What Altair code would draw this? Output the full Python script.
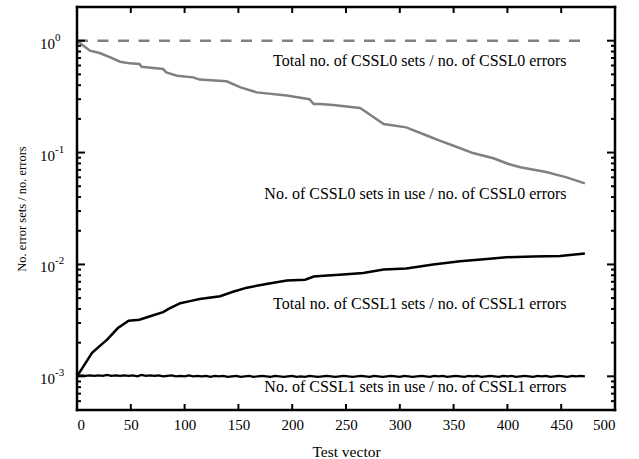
import altair as alt
import pandas as pd

FONT = "Liberation Serif"

# ---- data ----
dash_x = [0, 470]
dash_y = [1.0, 1.0]

cssl0_use_x = [0, 12, 21, 31, 40, 49, 58, 60, 80, 83, 93, 108, 114, 139, 152, 167, 195, 216,
               220, 226, 238, 263, 269, 285, 306, 325, 337, 350, 368, 387, 401, 412, 436, 455, 472]
cssl0_use_y = [1.0, 0.814, 0.776, 0.71, 0.649, 0.627, 0.619, 0.585, 0.558, 0.52, 0.486, 0.47,
               0.449, 0.433, 0.382, 0.345, 0.323, 0.30, 0.271, 0.271, 0.266, 0.25, 0.229, 0.18,
               0.168, 0.142, 0.128, 0.115, 0.099, 0.089, 0.079, 0.074, 0.067, 0.060, 0.053]

cssl1_tot_x = [0, 14, 21, 28, 38, 48, 58, 68, 80, 86, 96, 105, 114, 133, 145, 158, 176, 195,
               212, 220, 226, 244, 266, 285, 306, 331, 356, 381, 399, 424, 449, 472]
cssl1_tot_y = [0.001, 0.00162, 0.00186, 0.00213, 0.0027, 0.00314, 0.0032, 0.00344, 0.00375,
               0.00404, 0.0045, 0.0047, 0.0049, 0.0052, 0.0057, 0.0062, 0.0067, 0.0072, 0.0073,
               0.0078, 0.0079, 0.0081, 0.0084, 0.0090, 0.0092, 0.0100, 0.0107, 0.0112, 0.0116,
               0.0118, 0.0119, 0.0125]

cssl1_use_x = [0, 4, 8, 12, 16, 20, 24, 28, 32, 36, 40, 44, 48, 52, 56, 60, 64, 68, 72, 76,
               80, 84, 88, 92, 96, 100, 104, 108, 112, 116, 120, 124, 128, 132, 136, 140, 144,
               148, 152, 156, 160, 164, 168, 172, 176, 180, 184, 188, 192, 196, 200, 204, 208,
               212, 216, 220, 224, 228, 232, 236, 240, 244, 248, 252, 256, 260, 264, 268, 272,
               276, 280, 284, 288, 292, 296, 300, 304, 308, 312, 316, 320, 324, 328, 332, 336,
               340, 344, 348, 352, 356, 360, 364, 368, 372, 376, 380, 384, 388, 392, 396, 400,
               404, 408, 412, 416, 420, 424, 428, 432, 436, 440, 444, 448, 452, 456, 460, 464,
               468, 472]
cssl1_use_y = [0.00100, 0.00102, 0.00101, 0.00102, 0.00101, 0.00102, 0.00101, 0.00103, 0.00101,
               0.00102, 0.00101, 0.00102, 0.00101, 0.00102, 0.00100, 0.00103, 0.00101, 0.00102,
               0.00101, 0.00102, 0.00100, 0.00101, 0.00102, 0.00100, 0.00101, 0.00100, 0.00102,
               0.00100, 0.00101, 0.00100, 0.00101, 0.00099, 0.00101, 0.00100, 0.00101, 0.00099,
               0.00100, 0.00101, 0.00099, 0.00100, 0.00101, 0.00099, 0.00100, 0.00101, 0.00100,
               0.00099, 0.00101, 0.00100, 0.00099, 0.00100, 0.00101, 0.00099, 0.00100, 0.00099,
               0.00101, 0.00100, 0.00099, 0.00100, 0.00101, 0.00100, 0.00099, 0.00100, 0.00101,
               0.00100, 0.00099, 0.00100, 0.00101, 0.00100, 0.00099, 0.00101, 0.00100, 0.00099,
               0.00100, 0.00101, 0.00100, 0.00099, 0.00101, 0.00100, 0.00099, 0.00100, 0.00101,
               0.00100, 0.00099, 0.00101, 0.00100, 0.00101, 0.00099, 0.00100, 0.00101, 0.00100,
               0.00099, 0.00101, 0.00100, 0.00101, 0.00099, 0.00100, 0.00101, 0.00100, 0.00099,
               0.00101, 0.00100, 0.00101, 0.00099, 0.00100, 0.00101, 0.00100, 0.00099, 0.00101,
               0.00100, 0.00101, 0.00099, 0.00100, 0.00101, 0.00100, 0.00099, 0.00101, 0.00100,
               0.00101, 0.00100]

x_ticks = [0, 50, 100, 150, 200, 250, 300, 350, 400, 450, 500]
y_major = [1.0, 0.1, 0.01, 0.001]
y_exp = ["0", "-1", "-2", "-3"]
y_minor = [2.0, 0.9, 0.8, 0.7, 0.6, 0.5, 0.4, 0.3, 0.2,
           0.09, 0.08, 0.07, 0.06, 0.05, 0.04, 0.03, 0.02,
           0.009, 0.008, 0.007, 0.006, 0.005, 0.004, 0.003, 0.002,
           0.0009, 0.0008, 0.0007, 0.0006, 0.0005]

ann_text = ["Total no. of CSSL0 sets / no. of CSSL0 errors",
            "No. of CSSL0 sets in use / no. of CSSL0 errors",
            "Total no. of CSSL1 sets / no. of CSSL1 errors",
            "No. of CSSL1 sets in use / no. of CSSL1 errors"]
ann_x = [455, 455, 455, 455]
ann_y = [0.662, 0.043, 0.00447, 0.000809]

# ---- scales ----
W, H = 538, 403
xs = alt.Scale(domain=[0, 500], nice=False, zero=False)
ys = alt.Scale(type="log", domain=[0.0005, 2], nice=False)

xenc = alt.X("x:Q", scale=xs,
             axis=alt.Axis(values=x_ticks, tickSize=0, domain=False, grid=False,
                           labelFont=FONT, labelFontSize=15, labelColor="black",
                           labelPadding=7, title="Test vector", titleFont=FONT,
                           titleFontSize=15.5, titleFontWeight="normal", titleColor="black",
                           titlePadding=12))
yenc = alt.Y("y:Q", scale=ys,
             axis=alt.Axis(values=y_major, labels=False, ticks=False, domain=False, grid=False,
                           title="No. error sets / no. errors", titleFont=FONT,
                           titleFontSize=12.5, titleFontWeight="normal", titleColor="black",
                           titlePadding=49))


def line_df(xv, yv):
    return pd.DataFrame({"x": xv, "y": yv})


dash = alt.Chart(line_df(dash_x, dash_y)).mark_line(
    color="#808080", strokeWidth=2.5, strokeDash=[11, 9.5]).encode(x=xenc, y=yenc)
l0 = alt.Chart(line_df(cssl0_use_x, cssl0_use_y)).mark_line(
    color="#808080", strokeWidth=2.5).encode(x="x:Q", y="y:Q")
l1 = alt.Chart(line_df(cssl1_tot_x, cssl1_tot_y)).mark_line(
    color="black", strokeWidth=2.5).encode(x="x:Q", y="y:Q")
l2 = alt.Chart(line_df(cssl1_use_x, cssl1_use_y)).mark_line(
    color="black", strokeWidth=2.2).encode(x="x:Q", y="y:Q")

ann = alt.Chart(pd.DataFrame({"x": ann_x, "y": ann_y, "t": ann_text})).mark_text(
    font=FONT, fontSize=16, align="right", baseline="middle", color="black"
).encode(x="x:Q", y="y:Q", text="t:N")

# ticks (inward)
xt_df = pd.DataFrame({"x": x_ticks[1:-1]})
xt_bot = alt.Chart(xt_df).mark_rule(color="black", strokeWidth=2).encode(
    x="x:Q", y=alt.value(H), y2=alt.value(H - 6))
xt_top = alt.Chart(xt_df).mark_rule(color="black", strokeWidth=2).encode(
    x="x:Q", y=alt.value(0), y2=alt.value(6))

ymaj_df = pd.DataFrame({"y": y_major, "e": y_exp, "b": ["10"] * len(y_major)})
ymin_df = pd.DataFrame({"y": y_minor})
yt_l = alt.Chart(ymaj_df).mark_rule(color="black", strokeWidth=2).encode(
    y="y:Q", x=alt.value(0), x2=alt.value(8))
yt_r = alt.Chart(ymaj_df).mark_rule(color="black", strokeWidth=2).encode(
    y="y:Q", x=alt.value(W), x2=alt.value(W - 8))
ym_l = alt.Chart(ymin_df).mark_rule(color="black", strokeWidth=2).encode(
    y="y:Q", x=alt.value(0), x2=alt.value(4))
ym_r = alt.Chart(ymin_df).mark_rule(color="black", strokeWidth=2).encode(
    y="y:Q", x=alt.value(W), x2=alt.value(W - 4))

ylab_base = alt.Chart(ymaj_df).mark_text(
    font=FONT, fontSize=15, align="right", baseline="middle", color="black", dy=3
).encode(y="y:Q", x=alt.value(-22), text="b:N")
ylab_exp = alt.Chart(ymaj_df).mark_text(
    font=FONT, fontSize=11, align="left", baseline="middle", color="black", dy=-3
).encode(y="y:Q", x=alt.value(-22), text="e:N")

one = pd.DataFrame({"k": [0]})
fr_kw = dict(color="black", strokeWidth=2.5, strokeCap="square")
fr_l = alt.Chart(one).mark_rule(**fr_kw).encode(x=alt.value(0), y=alt.value(0), y2=alt.value(H))
fr_r = alt.Chart(one).mark_rule(**fr_kw).encode(x=alt.value(W), y=alt.value(0), y2=alt.value(H))
fr_t = alt.Chart(one).mark_rule(**fr_kw).encode(y=alt.value(0), x=alt.value(0), x2=alt.value(W))
fr_b = alt.Chart(one).mark_rule(**fr_kw).encode(y=alt.value(H), x=alt.value(0), x2=alt.value(W))

chart = alt.layer(
    dash, l0, l1, l2, ann, xt_bot, xt_top, yt_l, yt_r, ym_l, ym_r, ylab_base, ylab_exp,
    fr_l, fr_r, fr_t, fr_b
).properties(
    width=W, height=H,
    autosize=alt.AutoSizeParams(type="none"),
    padding={"left": 77, "top": 7, "right": 24, "bottom": 49},
).configure(
    background="white",
    font=FONT,
).configure_view(
    stroke="black", strokeWidth=2
)

chart.save("out.html", embed_options={"renderer": "svg", "actions": False})
